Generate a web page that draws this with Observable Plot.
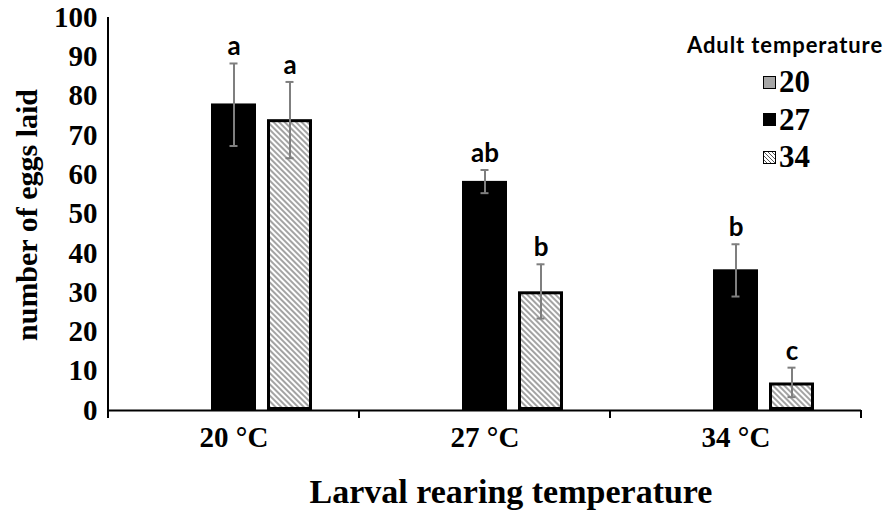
<!DOCTYPE html>
<html><head><meta charset="utf-8">
<script src="https://cdn.jsdelivr.net/npm/d3@7"></script>
<script src="https://cdn.jsdelivr.net/npm/@observablehq/plot@0.6"></script>
<style>
body{margin:0;background:#fff;}
#wrap{position:relative;width:890px;height:512px;overflow:hidden;}
.ttl{position:absolute;font-family:"Liberation Serif","Times New Roman",serif;font-weight:bold;color:#000;white-space:nowrap;}
.legend{position:absolute;left:660px;top:30px;width:230px;}
.lt{font-family:Lato,"Open Sans",sans-serif;font-weight:bold;font-size:22px;letter-spacing:0.9px;position:absolute;left:27px;top:1px;white-space:nowrap;}
.li{position:absolute;left:103px;height:30px;display:flex;align-items:center;font-family:"Liberation Serif",serif;font-weight:bold;font-size:31px;}
.sw{width:11px;height:11px;border:1.5px solid #000;margin-right:3px;}
</style></head><body><div id="wrap"></div>
<script>
const categories = ["20 °C", "27 °C", "34 °C"];
const seriesNames = ["20", "27", "34"];
const yTicks = [0,10,20,30,40,50,60,70,80,90,100];
const mean27 = [78.0, 58.3, 35.8];
const mean34 = [74.0, 30.2, 7.0];
const low27 = [67.3, 55.3, 29.0];
const high27 = [88.3, 61.2, 42.3];
const low34 = [64.2, 23.4, 3.4];
const high34 = [83.6, 37.2, 10.9];
const letters27 = ["a", "ab", "b"];
const letters34 = ["a", "b", "c"];

const rows = [];
categories.forEach((c, i) => {
  rows.push({cat: c, series: "27", mean: mean27[i], lo: low27[i], hi: high27[i], letter: letters27[i]});
  rows.push({cat: c, series: "34", mean: mean34[i], lo: low34[i], hi: high34[i], letter: letters34[i]});
});

const chart = Plot.plot({
  width: 890, height: 512,
  marginLeft: 108, marginRight: 29, marginTop: 17, marginBottom: 102,
  style: {background: "white", fontFamily: "'Liberation Serif', serif", fontWeight: "bold", fontSize: "29px", color: "#000"},
  fx: {domain: categories, paddingInner: 0, paddingOuter: 0, label: null, axis: "bottom", tickSize: 0, tickPadding: 16},
  x: {domain: seriesNames, paddingInner: 0.196, paddingOuter: 0.839, axis: null},
  y: {domain: [0, 100], ticks: yTicks, tickSize: 0, tickPadding: 11, label: null},
  marks: [
    Plot.barY(rows.filter(d => d.series === "27"), {fx: "cat", x: "series", y: "mean", fill: "black"}),
    Plot.barY(rows.filter(d => d.series === "34"), {fx: "cat", x: "series", y: "mean", fill: "url(#hatch)", stroke: "black", strokeWidth: 3, inset: 1.5}),
    Plot.ruleY([0], {stroke: "black", strokeWidth: 2}),
    Plot.ruleX(rows, {fx: "cat", x: "series", y1: "lo", y2: "hi", stroke: "#7f7f7f", strokeWidth: 2}),
    Plot.tickY(rows, {fx: "cat", x: "series", y: "lo", stroke: "#7f7f7f", strokeWidth: 2, insetLeft: 18.5, insetRight: 18.5}),
    Plot.tickY(rows, {fx: "cat", x: "series", y: "hi", stroke: "#7f7f7f", strokeWidth: 2, insetLeft: 18.5, insetRight: 18.5}),
    Plot.text(rows, {fx: "cat", x: "series", y: "hi", text: "letter", lineAnchor: "bottom", dy: -8, fontFamily: "Lato, 'Open Sans', sans-serif", fontWeight: "bold", fontSize: 26, fill: "black"})
  ]
});

const wrap = document.getElementById("wrap");
wrap.appendChild(chart);
const svg = chart.tagName.toLowerCase() === "svg" ? chart : chart.querySelector("svg");
const NS = "http://www.w3.org/2000/svg";
const defs = document.createElementNS(NS, "defs");
const pat = document.createElementNS(NS, "pattern");
pat.setAttribute("id", "hatch");
pat.setAttribute("patternUnits", "userSpaceOnUse");
pat.setAttribute("width", "4");
pat.setAttribute("height", "4");
pat.setAttribute("patternTransform", "rotate(45)");
const pr = document.createElementNS(NS, "rect");
pr.setAttribute("width", "4"); pr.setAttribute("height", "4"); pr.setAttribute("fill", "white");
const pl = document.createElementNS(NS, "line");
pl.setAttribute("x1", "0"); pl.setAttribute("x2", "4"); pl.setAttribute("y1", "1"); pl.setAttribute("y2", "1");
pl.setAttribute("stroke", "#666"); pl.setAttribute("stroke-width", "1.2");
pat.appendChild(pr); pat.appendChild(pl); defs.appendChild(pat);
svg.insertBefore(defs, svg.firstChild);

// axis lines and boundary ticks through scales
const fx = chart.scale("fx"), y = chart.scale("y");
const y0 = y.apply(0), y100 = y.apply(100);
function line(x1, y1, x2, y2, w) {
  const l = document.createElementNS(NS, "line");
  l.setAttribute("x1", x1); l.setAttribute("y1", y1); l.setAttribute("x2", x2); l.setAttribute("y2", y2);
  l.setAttribute("stroke", "black"); l.setAttribute("stroke-width", w);
  svg.appendChild(l);
}
const left = fx.apply(categories[0]);
line(left, y100, left, y0 + 1, 2);
const bounds = categories.map(c => fx.apply(c)).concat([fx.apply(categories[categories.length - 1]) + fx.bandwidth]);
bounds.forEach(b => line(b, y0, b, y0 + 8, 2));

// titles and legend
const yt = document.createElement("div");
yt.className = "ttl"; yt.textContent = "number of eggs laid";
yt.style.fontSize = "30px"; yt.style.left = "27px"; yt.style.top = "215px";
yt.style.transform = "translate(-50%,-50%) rotate(-90deg)";
wrap.appendChild(yt);
const xt = document.createElement("div");
xt.className = "ttl"; xt.textContent = "Larval rearing temperature";
xt.style.fontSize = "34px"; xt.style.left = "511px"; xt.style.top = "492px";
xt.style.transform = "translate(-50%,-50%)";
wrap.appendChild(xt);

const lg = document.createElement("div");
lg.className = "legend";
lg.innerHTML = '<div class="lt">Adult temperature</div>';
const swatches = [
  "background:#a6a6a6;",
  "background:#000;",
  "background:repeating-linear-gradient(45deg,#fff 0 1.6px,#555 1.6px 2.8px);"
];
seriesNames.forEach((s, i) => {
  const it = document.createElement("div");
  it.className = "li";
  it.style.top = (37 + i * 37.5) + "px";
  it.innerHTML = '<span class="sw" style="' + swatches[i] + '"></span><span>' + s + '</span>';
  lg.appendChild(it);
});
wrap.appendChild(lg);
</script></body></html>
